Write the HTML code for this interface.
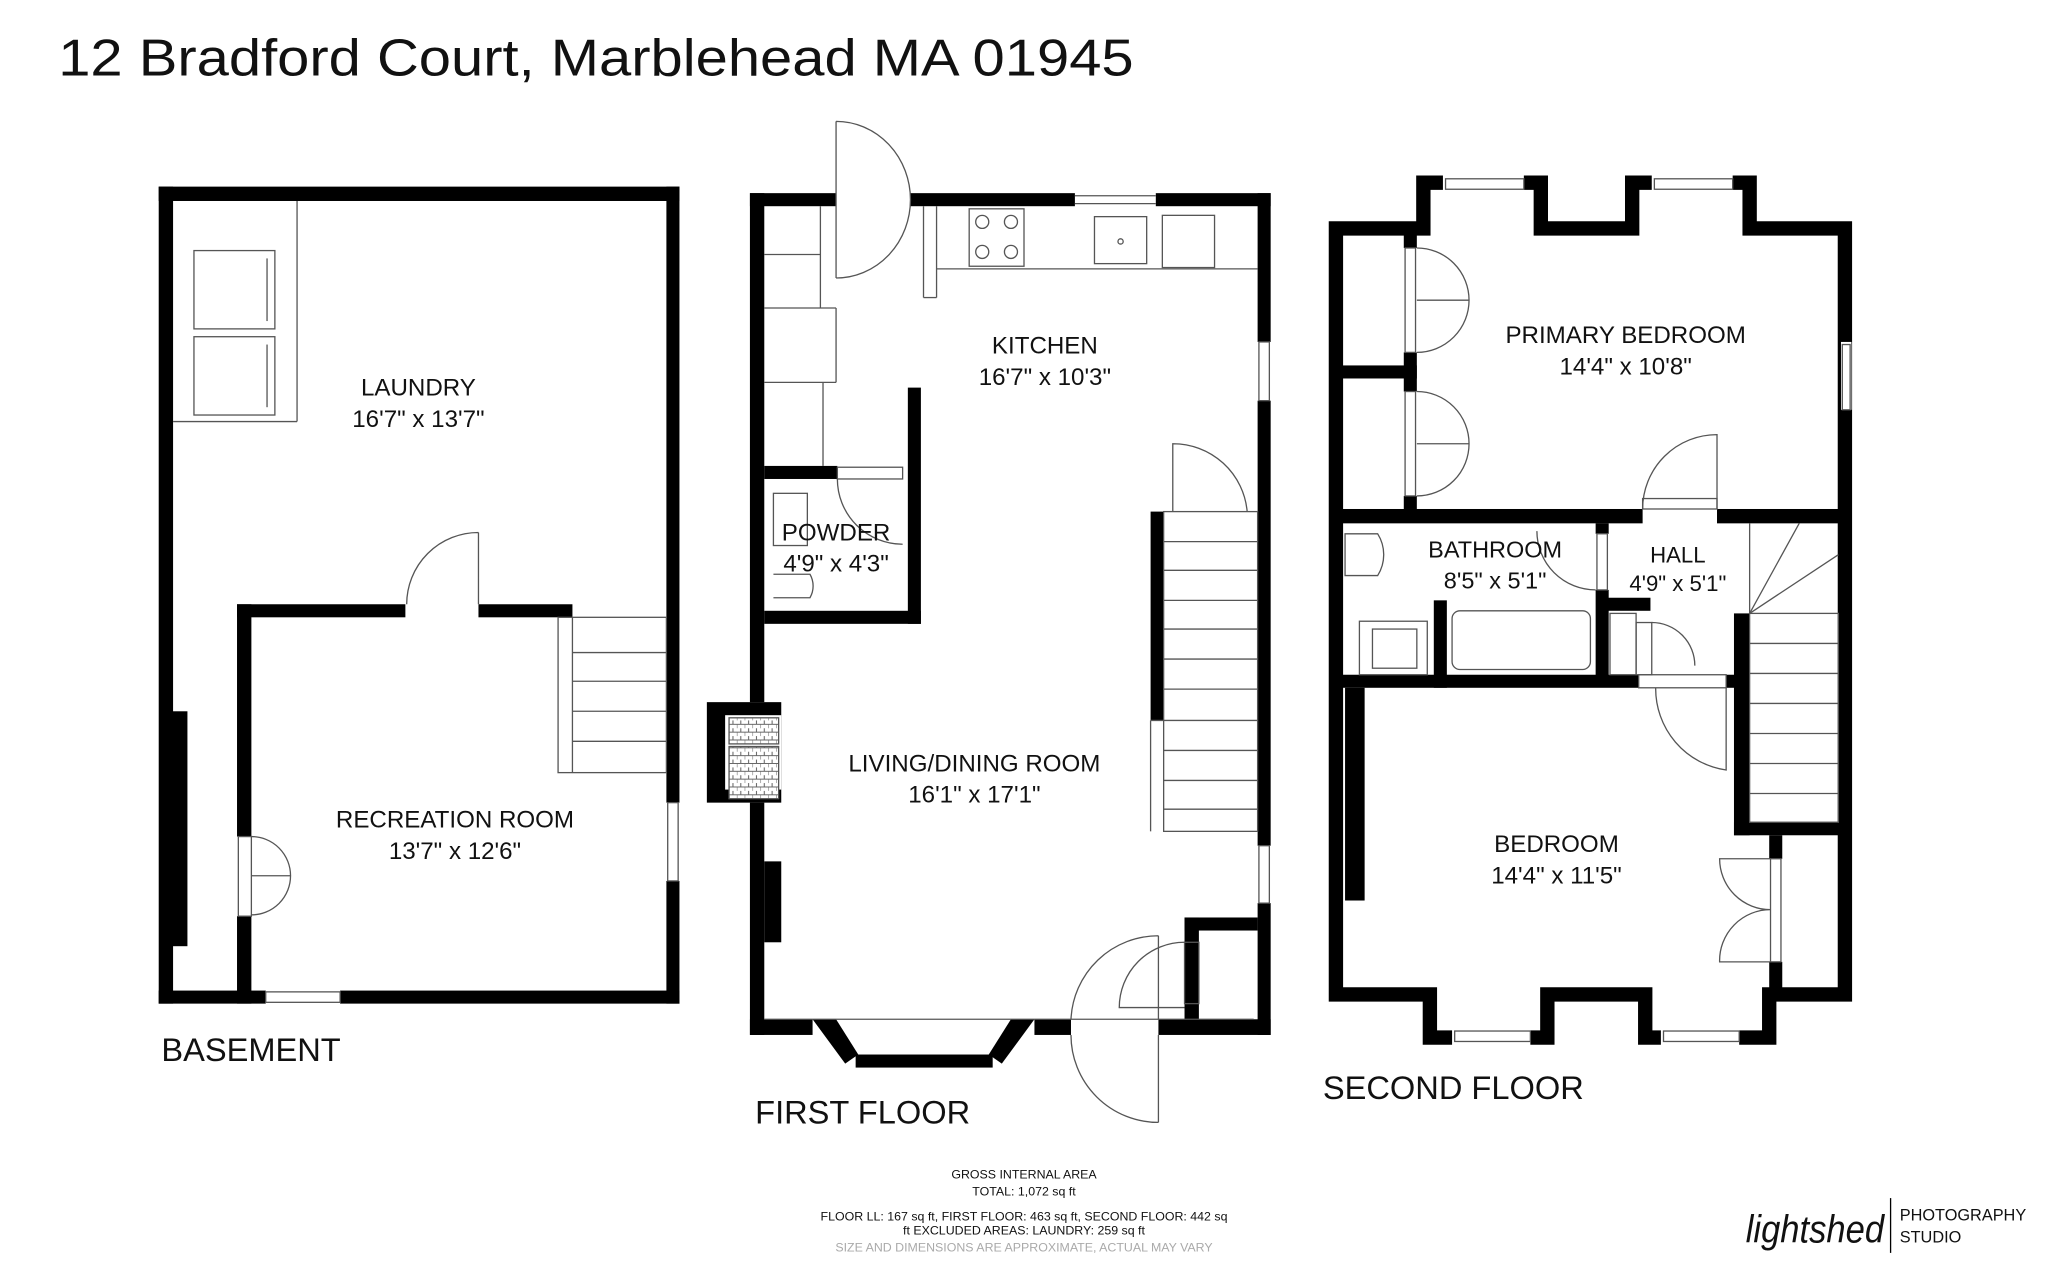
<!DOCTYPE html>
<html><head><meta charset="utf-8"><style>
html,body{margin:0;padding:0;background:#fff;}
svg{display:block}
text{font-family:"Liberation Sans","DejaVu Sans",sans-serif;fill:#111}
</style></head><body>
<svg width="2048" height="1279" viewBox="0 0 1568 980" xmlns="http://www.w3.org/2000/svg">
<defs>
<pattern id="hat" width="6" height="6" patternUnits="userSpaceOnUse">
<rect width="6" height="6" fill="#fff"/><path d="M0 3 H6 M3 0 V3 M0 3 V6" stroke="#666" stroke-width="0.8"/>
</pattern>
</defs>
<rect width="1568" height="980" fill="#fff"/>
<text x="44" y="58" font-size="40" textLength="824" lengthAdjust="spacingAndGlyphs">12 Bradford Court, Marblehead MA 01945</text>

<!-- ===== BASEMENT ===== -->
<g fill="#000">
<rect x="121" y="143" width="399" height="11"/>
<rect x="121" y="143" width="11" height="626"/>
<rect x="121" y="759" width="82" height="10"/>
<rect x="260" y="759" width="260" height="10"/>
<rect x="510" y="143" width="10" height="472"/>
<rect x="510" y="675" width="10" height="94"/>
<rect x="131" y="545" width="12" height="180"/>
<rect x="181" y="463" width="129" height="10"/>
<rect x="366" y="463" width="72" height="10"/>
<rect x="181" y="463" width="11" height="178"/>
<rect x="181" y="702" width="11" height="67"/>
</g>
<g fill="none" stroke="#555" stroke-width="1">
<rect x="203" y="760" width="57" height="8"/>
<rect x="511" y="615" width="8" height="60"/>
<line x1="132" y1="323" x2="227" y2="323"/>
<line x1="227" y1="154" x2="227" y2="323"/>
<rect x="148" y="192" width="62" height="60"/><rect x="148" y="258" width="62" height="60"/>
<line x1="204" y1="198" x2="204" y2="246"/><line x1="204" y1="264" x2="204" y2="312"/>
<rect x="427" y="473" width="83" height="119"/>
<line x1="438" y1="500" x2="510" y2="500"/><line x1="438" y1="522" x2="510" y2="522"/>
<line x1="438" y1="545" x2="510" y2="545"/><line x1="438" y1="568" x2="510" y2="568"/>
<line x1="438" y1="473" x2="438" y2="592"/>
<path d="M366 408 L366 463 M366 408 A55 55 0 0 0 311 463"/>
<rect x="182" y="641" width="10" height="61"/>
<path d="M192 641 A30 30 0 0 1 222 671 A30 30 0 0 1 192 701"/>
<line x1="192" y1="671" x2="222" y2="671"/>
</g>
<text x="320" y="303" font-size="18.5" text-anchor="middle">LAUNDRY</text>
<text x="320" y="327" font-size="18.5" text-anchor="middle">16'7" x 13'7"</text>
<text x="348" y="634" font-size="18.5" text-anchor="middle">RECREATION ROOM</text>
<text x="348" y="658" font-size="18.5" text-anchor="middle">13'7" x 12'6"</text>
<text x="123" y="813" font-size="25">BASEMENT</text>

<!-- ===== FIRST FLOOR ===== -->
<g fill="#000">
<rect x="574" y="148" width="66" height="10"/>
<rect x="697" y="148" width="126" height="10"/>
<rect x="885" y="148" width="88" height="10"/>
<rect x="574" y="148" width="11" height="390"/>
<rect x="541" y="538" width="57" height="77"/>
<rect x="574" y="615" width="11" height="178"/>
<rect x="585" y="660" width="13" height="62"/>
<rect x="574" y="781" width="48" height="12"/>
<rect x="792" y="781" width="28" height="12"/>
<rect x="887" y="781" width="86" height="12"/>
<rect x="963" y="148" width="10" height="114"/>
<rect x="963" y="307" width="10" height="341"/>
<rect x="963" y="692" width="10" height="101"/>
<rect x="585" y="357" width="56" height="10"/>
<rect x="695" y="297" width="10" height="181"/>
<rect x="585" y="468" width="120" height="10"/>
<rect x="881" y="392" width="10" height="160"/>
<rect x="907" y="703" width="56" height="10"/>
<rect x="907" y="703" width="11" height="78"/>
<polygon points="622,781 640,781 657,808 647,815"/>
<polygon points="792,781 774,781 757,808 767,815"/>
<rect x="655" y="808" width="105" height="10"/>
</g>
<rect x="555" y="548" width="43" height="57" fill="#fff"/>
<rect x="558" y="550" width="38" height="20" fill="url(#hat)" stroke="#555" stroke-width="1"/>
<rect x="558" y="572" width="38" height="40" fill="url(#hat)" stroke="#555" stroke-width="1"/>
<g fill="none" stroke="#555" stroke-width="1">
<line x1="823" y1="150" x2="885" y2="150"/><line x1="823" y1="156" x2="885" y2="156"/>
<rect x="964" y="262" width="8" height="45"/><rect x="964" y="648" width="8" height="44"/>
<path d="M640 93 L640 213 M640 93 A57 60 0 0 1 697 153 A57 60 0 0 1 640 213"/>
<line x1="717" y1="158" x2="717" y2="228"/><line x1="707" y1="158" x2="707" y2="228"/>
<line x1="707" y1="228" x2="717" y2="228"/>
<line x1="717" y1="206" x2="963" y2="206"/>
<rect x="742" y="160" width="42" height="44"/>
<circle cx="752" cy="170" r="5"/><circle cx="774" cy="170" r="5"/><circle cx="752" cy="193" r="5"/><circle cx="774" cy="193" r="5"/>
<rect x="838" y="166" width="40" height="36"/><circle cx="858" cy="185" r="2"/>
<rect x="890" y="165" width="40" height="40"/>
<line x1="585" y1="195" x2="628" y2="195"/><line x1="628" y1="158" x2="628" y2="236"/>
<line x1="585" y1="236" x2="640" y2="236"/><line x1="640" y1="236" x2="640" y2="293"/>
<line x1="585" y1="293" x2="640" y2="293"/><line x1="630" y1="293" x2="630" y2="357"/>
<rect x="641" y="358" width="50" height="9"/>
<path d="M641 367 A50 50 0 0 0 691 417"/>
<rect x="592" y="378" width="26" height="40"/>
<path d="M592 440 L620 440 A18 18 0 0 1 620 458 L592 458"/>
<path d="M898 392 L898 340 A57 57 0 0 1 955 392"/>
<rect x="891" y="392" width="72" height="245"/>
<line x1="891" y1="415" x2="963" y2="415"/><line x1="891" y1="437" x2="963" y2="437"/>
<line x1="891" y1="460" x2="963" y2="460"/><line x1="891" y1="482" x2="963" y2="482"/>
<line x1="891" y1="505" x2="963" y2="505"/><line x1="891" y1="528" x2="963" y2="528"/>
<line x1="881" y1="552" x2="963" y2="552"/><line x1="891" y1="575" x2="963" y2="575"/>
<line x1="891" y1="598" x2="963" y2="598"/><line x1="891" y1="620" x2="963" y2="620"/>
<line x1="881" y1="552" x2="881" y2="637"/>
<line x1="585" y1="781" x2="960" y2="781"/>
<path d="M887 717 L887 781 M887 717 A67 67 0 0 0 820 781"/>
<path d="M887 793 L887 860 M887 860 A67 67 0 0 1 820 793"/>
<rect x="907" y="722" width="11" height="47"/>
<path d="M907 722 A50 50 0 0 0 857 772 L907 772"/>
</g>
<text x="800" y="271" font-size="18.5" text-anchor="middle">KITCHEN</text>
<text x="800" y="295" font-size="18.5" text-anchor="middle">16'7" x 10'3"</text>
<text x="640" y="414" font-size="18.5" text-anchor="middle">POWDER</text>
<text x="640" y="438" font-size="18.5" text-anchor="middle">4'9" x 4'3"</text>
<text x="746" y="591" font-size="18.5" text-anchor="middle">LIVING/DINING ROOM</text>
<text x="746" y="615" font-size="18.5" text-anchor="middle">16'1" x 17'1"</text>
<text x="578" y="861" font-size="25">FIRST FLOOR</text>

<!-- ===== SECOND FLOOR ===== -->
<path fill="none" stroke="#000" stroke-width="11" stroke-linejoin="miter" d="M1023 175 L1090 175 L1090 140 L1180 140 L1180 175 L1250 175 L1250 140 L1340 140 L1340 175 L1413 175 L1413 762 L1355 762 L1355 795 L1260 795 L1260 762 L1185 762 L1185 795 L1095 795 L1095 762 L1023 762 Z"/>
<g fill="#fff">
<rect x="1105" y="134" width="62" height="12"/><rect x="1265" y="134" width="62" height="12"/>
<rect x="1410" y="262" width="8" height="52"/>
<rect x="1112" y="789" width="60" height="12"/><rect x="1272" y="789" width="60" height="12"/>
<rect x="1075" y="190" width="10" height="80"/><rect x="1075" y="300" width="10" height="80"/>
</g>
<g fill="#000">
<rect x="1018" y="390" width="240" height="11"/><rect x="1315" y="390" width="103" height="11"/>
<rect x="1018" y="280" width="67" height="10"/>
<rect x="1075" y="170" width="10" height="20"/><rect x="1075" y="270" width="10" height="30"/><rect x="1075" y="380" width="10" height="10"/>
<rect x="1222" y="401" width="10" height="8"/><rect x="1222" y="452" width="10" height="68"/>
<rect x="1098" y="460" width="10" height="67"/>
<rect x="1228" y="458" width="36" height="10"/>
<rect x="1018" y="517" width="237" height="10"/><rect x="1322" y="517" width="8" height="10"/>
<rect x="1030" y="527" width="15" height="163"/>
<rect x="1328" y="470" width="12" height="170"/>
<rect x="1328" y="630" width="90" height="10"/>
<rect x="1355" y="640" width="10" height="18"/><rect x="1355" y="737" width="10" height="30"/>
</g>
<g fill="none" stroke="#555" stroke-width="1">
<rect x="1107" y="137" width="60" height="8"/><rect x="1267" y="137" width="60" height="8"/>
<rect x="1411" y="264" width="6" height="50"/>
<rect x="1114" y="790" width="58" height="8"/><rect x="1274" y="790" width="58" height="8"/>
<rect x="1076" y="190" width="8" height="80"/><rect x="1076" y="300" width="8" height="80"/>
<path d="M1085 190 A40 40 0 0 1 1125 230 A40 40 0 0 1 1085 270 M1085 230 L1125 230"/>
<path d="M1085 300 A40 40 0 0 1 1125 340 A40 40 0 0 1 1085 380 M1085 340 L1125 340"/>
<rect x="1258" y="382" width="57" height="8"/>
<path d="M1315 390 L1315 333 A57 57 0 0 0 1258 390"/>
<path d="M1030 409 L1055 409 A30 30 0 0 1 1055 441 L1030 441 Z"/>
<rect x="1041" y="476" width="52" height="41"/><rect x="1051" y="482" width="34" height="30"/>
<rect x="1112" y="468" width="106" height="45" rx="6"/>
<rect x="1223" y="409" width="8" height="43"/>
<path d="M1222 452 A45 45 0 0 1 1177 407"/>
<rect x="1233" y="470" width="20" height="47"/>
<rect x="1253" y="477" width="12" height="40"/>
<path d="M1265 477 A33 33 0 0 1 1298 510"/>
<rect x="1255" y="517" width="67" height="10"/>
<path d="M1322 527 L1322 590 A63 63 0 0 1 1268 527"/>
<rect x="1340" y="470" width="68" height="160"/>
<line x1="1340" y1="493" x2="1408" y2="493"/><line x1="1340" y1="516" x2="1408" y2="516"/>
<line x1="1340" y1="539" x2="1408" y2="539"/><line x1="1340" y1="562" x2="1408" y2="562"/>
<line x1="1340" y1="585" x2="1408" y2="585"/><line x1="1340" y1="608" x2="1408" y2="608"/>
<line x1="1340" y1="470" x2="1378" y2="401"/><line x1="1340" y1="470" x2="1408" y2="425"/>
<line x1="1340" y1="401" x2="1340" y2="470"/>
<rect x="1356" y="658" width="8" height="79"/>
<path d="M1356 658 L1317 658 A39 39 0 0 0 1356 697 A39 39 0 0 0 1317 737 L1356 737"/>
</g>
<text x="1245" y="263" font-size="18.5" text-anchor="middle">PRIMARY BEDROOM</text>
<text x="1245" y="287" font-size="18.5" text-anchor="middle">14'4" x 10'8"</text>
<text x="1145" y="427" font-size="18" text-anchor="middle">BATHROOM</text>
<text x="1145" y="451" font-size="18" text-anchor="middle">8'5" x 5'1"</text>
<text x="1285" y="431" font-size="17" text-anchor="middle">HALL</text>
<text x="1285" y="453" font-size="17" text-anchor="middle">4'9" x 5'1"</text>
<text x="1192" y="653" font-size="18.5" text-anchor="middle">BEDROOM</text>
<text x="1192" y="677" font-size="18.5" text-anchor="middle">14'4" x 11'5"</text>
<text x="1013" y="842" font-size="25">SECOND FLOOR</text>

<!-- footer -->
<g font-size="9.5" text-anchor="middle">
<text x="784" y="903">GROSS INTERNAL AREA</text>
<text x="784" y="916">TOTAL: 1,072 sq ft</text>
<text x="784" y="935">FLOOR LL: 167 sq ft, FIRST FLOOR: 463 sq ft, SECOND FLOOR: 442 sq</text>
<text x="784" y="946">ft EXCLUDED AREAS: LAUNDRY: 259 sq ft</text>
<text x="784" y="959" style="fill:#aaa">SIZE AND DIMENSIONS ARE APPROXIMATE, ACTUAL MAY VARY</text>
</g>
<text x="1337" y="952" font-size="30" font-style="italic" font-family="Liberation Serif, serif" textLength="106" lengthAdjust="spacingAndGlyphs">lightshed</text>
<line x1="1448" y1="918" x2="1448" y2="960" stroke="#000" stroke-width="1"/>
<text x="1455" y="935" font-size="12.5">PHOTOGRAPHY</text>
<text x="1455" y="952" font-size="12.5">STUDIO</text>
</svg>
</body></html>
